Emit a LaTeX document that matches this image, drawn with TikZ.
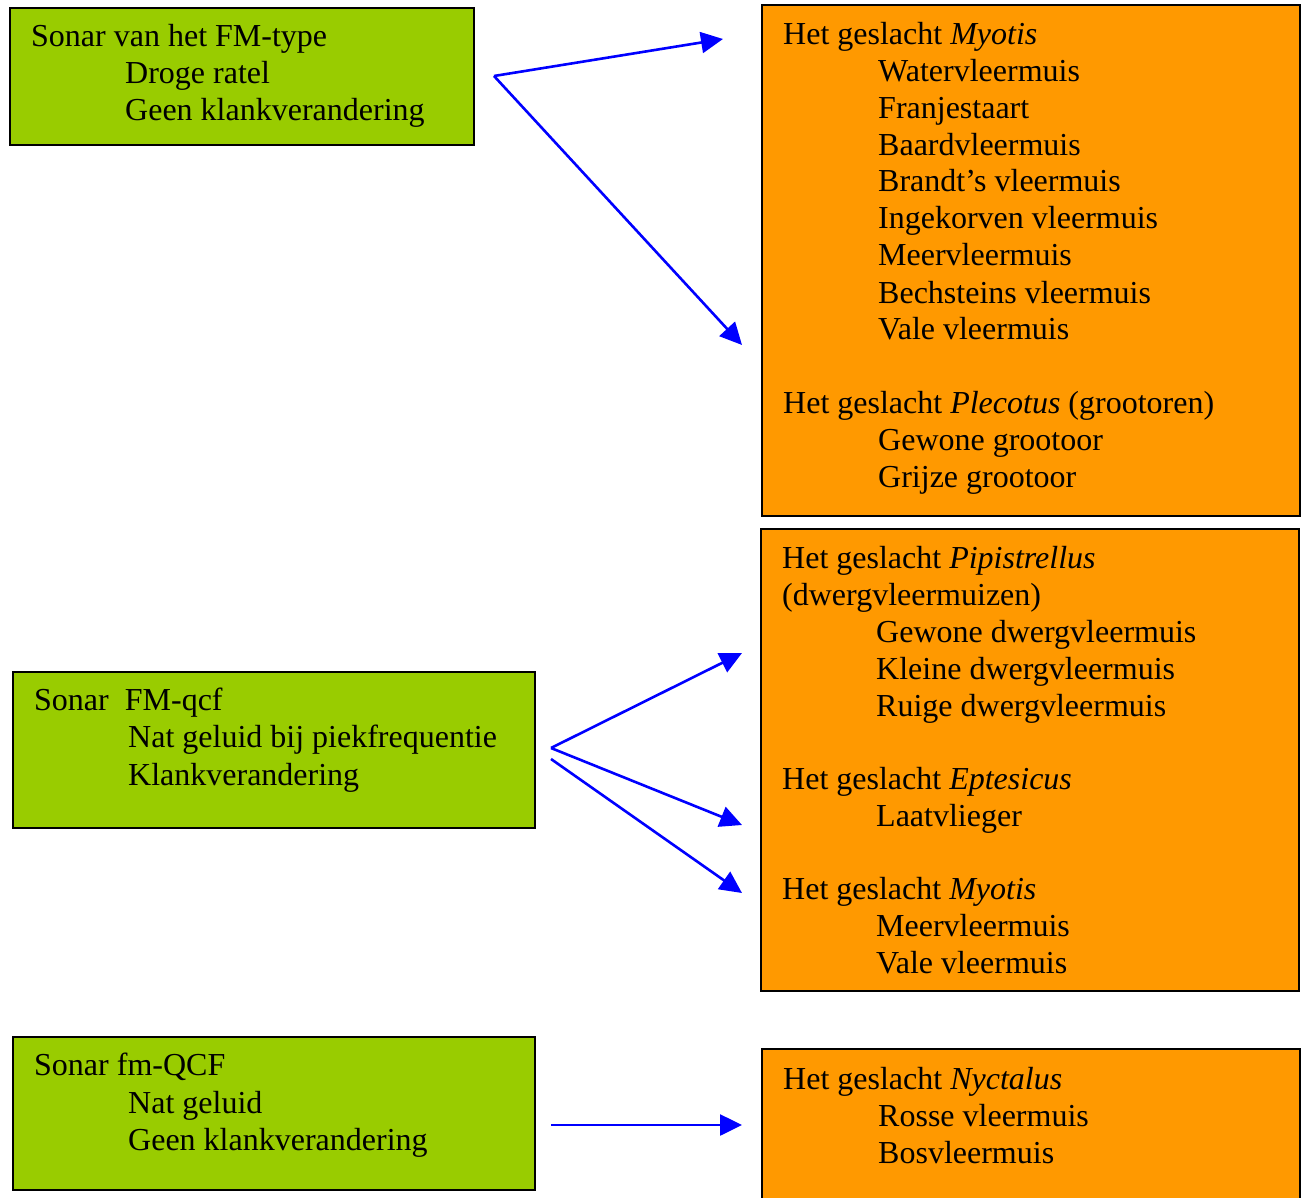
\documentclass[tikz,border=0pt]{standalone}
\usepackage{fontspec}
\setmainfont{Liberation Serif}
\usetikzlibrary{arrows.meta}
\definecolor{boxgreen}{RGB}{153,204,0}
\definecolor{boxorange}{RGB}{255,153,0}
\definecolor{arrowblue}{RGB}{0,0,255}
\begin{document}
\begin{tikzpicture}[x=1pt,y=-1pt,
  greenbox/.style={draw=black,line width=1.6pt,fill=boxgreen},
  orangebox/.style={draw=black,line width=1.6pt,fill=boxorange},
  txt/.style={anchor=base west,inner sep=0pt,font=\fontsize{32}{37}\selectfont},
  conn/.style={draw=arrowblue,line width=2.6pt,-{Triangle[length=22pt,width=21pt]}}]
\useasboundingbox (0,0) rectangle (1306,1198);
\clip (0,0) rectangle (1306,1198);
% boxes
\path[greenbox] (10,8) rectangle (474,145);
\node[inner sep=0pt] (b1) at (242,76.5) {};
\path[orangebox] (762,5) rectangle (1300,516);
\node[inner sep=0pt] (b2) at (1031,260) {};
\path[orangebox] (761,529) rectangle (1299,991);
\node[inner sep=0pt] (b3) at (1030,760) {};
\path[greenbox] (13,672) rectangle (535,828);
\node[inner sep=0pt] (b4) at (274,750) {};
\path[greenbox] (13,1037) rectangle (535,1190);
\node[inner sep=0pt] (b5) at (274,1113) {};
\path[orangebox] (762,1049) rectangle (1300,1220);
\node[inner sep=0pt] (b6) at (1031,1130) {};
% box 1 text
\node[txt] (t11) at (31,47) {Sonar van het FM-type};
\node[txt] (t12) at (125,84) {Droge ratel};
\node[txt] (t13) at (125,121) {Geen klankverandering};
% box 2 text
\node[txt] (t21) at (783,45) {Het geslacht \textit{Myotis}};
\node[txt] (t22) at (878,82) {Watervleermuis};
\node[txt] (t23) at (878,118.5) {Franjestaart};
\node[txt] (t24) at (878,155.5) {Baardvleermuis};
\node[txt] (t25) at (878,192) {Brandt’s vleermuis};
\node[txt] (t26) at (878,229) {Ingekorven vleermuis};
\node[txt] (t27) at (878,266) {Meervleermuis};
\node[txt] (t28) at (878,303) {Bechsteins vleermuis};
\node[txt] (t29) at (878,339.5) {Vale vleermuis};
\node[txt] (t2a) at (783,413) {Het geslacht \textit{Plecotus} (grootoren)};
\node[txt] (t2b) at (878,450) {Gewone grootoor};
\node[txt] (t2c) at (878,487) {Grijze grootoor};
% box 3 text
\node[txt] (t31) at (782,568) {Het geslacht \textit{Pipistrellus}};
\node[txt] (t32) at (782,605) {(dwergvleermuizen)};
\node[txt] (t33) at (876,642) {Gewone dwergvleermuis};
\node[txt] (t34) at (876,679) {Kleine dwergvleermuis};
\node[txt] (t35) at (876,716) {Ruige dwergvleermuis};
\node[txt] (t36) at (782,789) {Het geslacht \textit{Eptesicus}};
\node[txt] (t37) at (876,826) {Laatvlieger};
\node[txt] (t38) at (782,899) {Het geslacht \textit{Myotis}};
\node[txt] (t39) at (876,936) {Meervleermuis};
\node[txt] (t3a) at (876,973) {Vale vleermuis};
% box 4 text
\node[txt] (t41) at (34,710) {Sonar\ \ FM-qcf};
\node[txt] (t42) at (128,747) {Nat geluid bij piekfrequentie};
\node[txt] (t43) at (128,785) {Klankverandering};
% box 5 text
\node[txt] (t51) at (34,1075) {Sonar fm-QCF};
\node[txt] (t52) at (128,1113) {Nat geluid};
\node[txt] (t53) at (128,1150) {Geen klankverandering};
% box 6 text
\node[txt] (t61) at (783,1089) {Het geslacht \textit{Nyctalus}};
\node[txt] (t62) at (878,1126) {Rosse vleermuis};
\node[txt] (t63) at (878,1163) {Bosvleermuis};
% connector endpoints
\coordinate (s1) at (494,76);
\coordinate (e1) at (723,39);
\coordinate (e2) at (742,345);
\coordinate (s3) at (551,748);
\coordinate (e3) at (742,653);
\coordinate (e4) at (742,825);
\coordinate (s5) at (551,759);
\coordinate (e5) at (742,893);
\coordinate (s6) at (551,1125);
\coordinate (e6) at (742,1125);
\draw[conn] (s1) -- (e1);
\draw[conn] (s1) -- (e2);
\draw[conn] (s3) -- (e3);
\draw[conn] (s3) -- (e4);
\draw[conn] (s5) -- (e5);
\draw[conn] (s6) -- (e6);
\end{tikzpicture}
\end{document}
